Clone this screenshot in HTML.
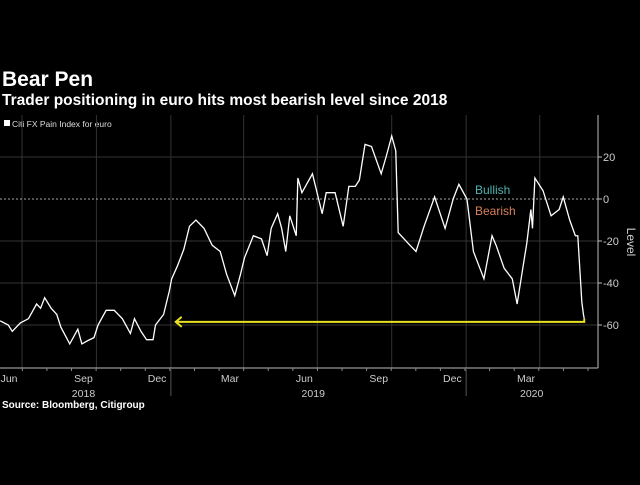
<!DOCTYPE html>
<html><head><meta charset="utf-8"><style>
body{margin:0;background:#000;width:640px;height:480px;overflow:hidden;font-family:"Liberation Sans",sans-serif}
svg text{font-family:"Liberation Sans",sans-serif}
</style></head><body>
<svg id="c" width="640" height="480">
<text x="2" y="86" fill="#fff" font-size="21" font-weight="bold">Bear Pen</text>
<text x="2" y="105" fill="#fff" font-size="15.5" font-weight="bold">Trader positioning in euro hits most bearish level since 2018</text>
<rect x="4" y="120" width="6" height="6" fill="#fff"/>
<text x="12" y="127" fill="#ddd" font-size="8.5">Citi FX Pain Index for euro</text>
<text x="2" y="408" fill="#fff" font-size="10" font-weight="bold">Source: Bloomberg, Citigroup</text>
<g id="plot"></g>
</svg>
<script>
const tickValues=[20,0,-20,-40,-60];
const tickLabels=["20","0","-20","-40","-60"];
const monthLabels=["Jun","Sep","Dec","Mar","Jun","Sep","Dec","Mar"];
const monthLabelDays=[-16,76,167,257,349,441,532,623];
const quarterDays=[0,92,184,274,365,457,549,640];
const yearLabels=["2018","2019","2020"];
const yearLabelDays=[76,360,630];
const yearDividerDays=[184,549];
const days=[-27,-17,-12,-2,8,18,23,28,36,43,48,59,69,74,81,89,94,104,114,124,134,139,147,154,162,165,175,182,185,192,200,207,215,225,235,245,253,263,270,275,286,296,303,308,316,321,326,331,339,341,346,359,366,371,376,387,397,404,412,417,424,432,444,450,457,462,465,477,487,497,510,523,533,540,550,558,571,581,586,596,606,612,619,624,629,631,634,644,654,664,669,677,684,687,692,694,695];
const values=[-58,-60,-63,-59,-57,-50,-52,-47,-52,-55,-61,-69,-62,-69,-67.5,-66,-60,-53,-53,-57,-64,-57,-63,-67,-67,-60,-55,-44,-38,-32,-24,-13,-10,-14,-22,-25,-36,-46,-36,-28,-17.5,-19,-27,-14,-7,-14,-25,-8,-17.5,10,3,12,1,-7,3,3,-13,6,6,9,26,25,12,20,30,23,-16,-21,-25,-13,1,-14,0,7,0,-25,-38,-17.5,-22,-33,-38,-50,-33,-21,-5,-14,10,4,-8,-5,1,-10,-17.5,-17.5,-49,-55,-57];
const arrowValue=-58.5;
const arrowStartDay=190;
const NS="http://www.w3.org/2000/svg";
const g=document.getElementById('plot');
const X=d=>22+d*0.809;
const Y=v=>199-v*2.1;
const plotTop=115,plotBottom=368,axisX=598;
function mk(t,a){const e=document.createElementNS(NS,t);for(const k in a)e.setAttribute(k,a[k]);g.appendChild(e);return e;}
quarterDays.forEach(d=>{const e=mk('line',{x1:X(d),x2:X(d),y1:plotTop,y2:plotBottom,stroke:'#333','stroke-width':1});

});
tickValues.forEach((v,i)=>{const e=mk('line',{x1:0,x2:axisX,y1:Y(v),y2:Y(v),stroke:v===0?'#aaa':'#333','stroke-width':1,'stroke-dasharray':v===0?'2,2':'none'});


const t=mk('line',{x1:axisX,x2:axisX+4,y1:Y(v),y2:Y(v),stroke:'#bbb'});


const l=mk('text',{x:axisX+5,y:Y(v)+4,fill:'#ccc','font-size':11});l.textContent=tickLabels[i];

});
const ax=mk('line',{x1:axisX,x2:axisX,y1:plotTop,y2:plotBottom,stroke:'#bbb'});


const bx=mk('line',{x1:0,x2:axisX,y1:plotBottom,y2:plotBottom,stroke:'#bbb'});


for(let d=-30;d<700;d+=30.4){if(X(d)<0||X(d)>axisX)continue;const e=mk('line',{x1:X(d),x2:X(d),y1:plotBottom,y2:plotBottom+3,stroke:'#888'});

}
monthLabels.forEach((m,i)=>{const t=mk('text',{x:X(monthLabelDays[i]),y:382,fill:'#ccc','font-size':10.5,'text-anchor':'middle'});t.textContent=m;

});
yearLabels.forEach((m,i)=>{const t=mk('text',{x:X(yearLabelDays[i]),y:397,fill:'#ccc','font-size':10.5,'text-anchor':'middle'});t.textContent=m;

});
yearDividerDays.forEach(d=>{const e=mk('line',{x1:X(d),x2:X(d),y1:plotBottom,y2:396,stroke:'#555'});

});
const p=mk('polyline',{points:days.map((d,i)=>X(d)+','+Y(values[i])).join(' '),fill:'none',stroke:'#fff','stroke-width':1.3});


const lastX=X(days[days.length-1]);
const ay=Y(arrowValue);
const ar=mk('path',{d:`M${lastX},${Y(values[values.length-1])} L${lastX},${ay} L${X(arrowStartDay)},${ay} M${X(arrowStartDay)+6},${ay-5} L${X(arrowStartDay)},${ay} L${X(arrowStartDay)+6},${ay+5}`,fill:'none',stroke:'#e8e020','stroke-width':2});


const b=mk('text',{x:475,y:194,fill:'#4fb3b0','font-size':12});b.textContent='Bullish';


const br=mk('text',{x:475,y:215,fill:'#d9825a','font-size':12});br.textContent='Bearish';


const lv=mk('text',{x:627,y:242,fill:'#ccc','font-size':12,'text-anchor':'middle',transform:'rotate(90 627 242)'});lv.textContent='Level';


</script>
</body></html>
